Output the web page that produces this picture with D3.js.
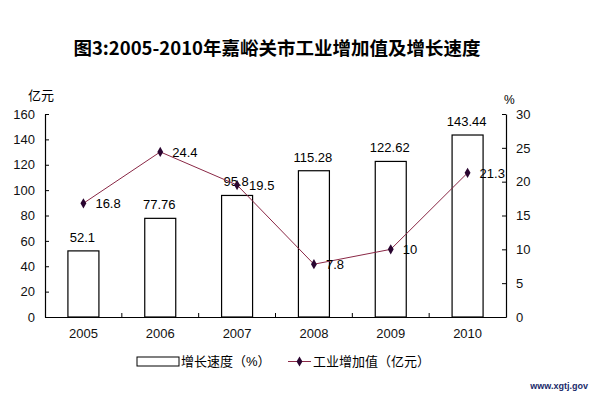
<!DOCTYPE html>
<html>
<head>
<meta charset="utf-8">
<script src="https://cdn.jsdelivr.net/npm/d3@7"></script>
<style>
  body { margin: 0; background: #fff; }
  text { font-family: "Liberation Sans", "Noto Sans CJK SC", sans-serif; }
</style>
</head>
<body>
<script>
const years = ["2005", "2006", "2007", "2008", "2009", "2010"];
const addedValue = [52.1, 77.76, 95.8, 115.28, 122.62, 143.44];   // 亿元, bars
const growthRate = [16.8, 24.4, 19.5, 7.8, 10, 21.3];            // %, line
const leftTicks = [0, 20, 40, 60, 80, 100, 120, 140, 160];
const rightTicks = [0, 5, 10, 15, 20, 25, 30];

const width = 591, height = 395;
const plotL = 45, plotR = 506, plotT = 114, plotB = 317;

var svg = d3.select("body").append("svg")
    .attr("width", width)
    .attr("height", height);

var x = d3.scaleBand().domain(years).range([plotL, plotR]);
var yL = d3.scaleLinear().domain([0, 160]).range([plotB, plotT]);
var yR = d3.scaleLinear().domain([0, 30]).range([plotB, plotT]);

// title
svg.append("text")
    .attr("x", 277).attr("y", 55)
    .attr("text-anchor", "middle")
    .style("font-family", "'Noto Sans CJK SC', sans-serif")
    .style("font-weight", "bold")
    .style("font-size", "18.5px")
    .text("图3:2005-2010年嘉峪关市工业增加值及增长速度");

// axes
var axisL = svg.append("g").attr("transform", `translate(${plotL},0)`)
    .call(d3.axisLeft(yL).tickValues(leftTicks).tickSizeInner(-4).tickSizeOuter(0).tickPadding(10));
var axisR = svg.append("g").attr("transform", `translate(${plotR},0)`)
    .call(d3.axisRight(yR).tickValues(rightTicks).tickSizeInner(-4).tickSizeOuter(0).tickPadding(10));
var axisB = svg.append("g").attr("transform", `translate(0,${plotB})`)
    .call(d3.axisBottom(x).tickSize(0).tickPadding(12));

[axisL, axisR, axisB].forEach(g => {
    g.selectAll("path.domain").attr("stroke", "#000").attr("stroke-width", 1.2);
    g.selectAll("line").attr("stroke", "#000");
    g.selectAll("text").style("font-size", "13px").attr("fill", "#111")
        .style("font-family", "'Liberation Sans', sans-serif");
});

// category boundary ticks on bottom axis
svg.append("g").selectAll("line")
    .data(years.slice(1))
    .join("line")
    .attr("x1", d => x(d)).attr("x2", d => x(d))
    .attr("y1", plotB).attr("y2", plotB - 4)
    .attr("stroke", "#000");

// unit labels
svg.append("text").attr("x", 28).attr("y", 100)
    .style("font-size", "13px").text("亿元");
svg.append("text").attr("x", 504).attr("y", 104)
    .style("font-size", "12px").text("%");

// bars
const barW = 31;
svg.append("g").selectAll("rect")
    .data(years)
    .join("rect")
    .attr("x", d => x(d) + x.bandwidth() / 2 - barW / 2)
    .attr("y", (d, i) => yL(addedValue[i]))
    .attr("width", barW)
    .attr("height", (d, i) => plotB - yL(addedValue[i]))
    .attr("fill", "#fff")
    .attr("stroke", "#000")
    .attr("stroke-width", 1.2);

svg.append("g").selectAll("text")
    .data(years)
    .join("text")
    .attr("x", d => x(d) + x.bandwidth() / 2 - 1)
    .attr("y", (d, i) => yL(addedValue[i]) - 9)
    .attr("text-anchor", "middle")
    .style("font-size", "13px")
    .text((d, i) => addedValue[i]);

// line
var line = d3.line()
    .x(d => x(d[0]) + x.bandwidth() / 2)
    .y(d => yR(d[1]));
var pts = years.map((d, i) => [d, growthRate[i]]);

svg.append("path")
    .datum(pts)
    .attr("d", line)
    .attr("fill", "none")
    .attr("stroke", "#8a2846")
    .attr("stroke-width", 1);

svg.append("g").selectAll("path")
    .data(pts)
    .join("path")
    .attr("transform", d => `translate(${x(d[0]) + x.bandwidth() / 2},${yR(d[1])})`)
    .attr("d", d3.symbol(d3.symbolDiamond, 30))
    .attr("fill", "#2a0530");

svg.append("g").selectAll("text")
    .data(pts)
    .join("text")
    .attr("x", d => x(d[0]) + x.bandwidth() / 2 + 12)
    .attr("y", d => yR(d[1]) + 5)
    .style("font-size", "13px")
    .text(d => d[1]);

// legend
var lg = svg.append("g");
lg.append("rect").attr("x", 137).attr("y", 357).attr("width", 42).attr("height", 9)
    .attr("fill", "#fff").attr("stroke", "#000");
lg.append("text").attr("x", 181).attr("y", 366).style("font-size", "13px").text("增长速度（%）");
lg.append("line").attr("x1", 288).attr("x2", 311).attr("y1", 361.5).attr("y2", 361.5)
    .attr("stroke", "#8a2846");
lg.append("path").attr("transform", "translate(299.5,361.5)")
    .attr("d", d3.symbol(d3.symbolDiamond, 30)).attr("fill", "#2a0530");
lg.append("text").attr("x", 313).attr("y", 366).style("font-size", "13px").text("工业增加值（亿元）");

// watermark
svg.append("text").attr("x", 588).attr("y", 389).attr("text-anchor", "end")
    .style("font-size", "9px").style("font-weight", "bold").attr("fill", "#1a2a6a")
    .text("www.xgtj.gov");
</script>
</body>
</html>
